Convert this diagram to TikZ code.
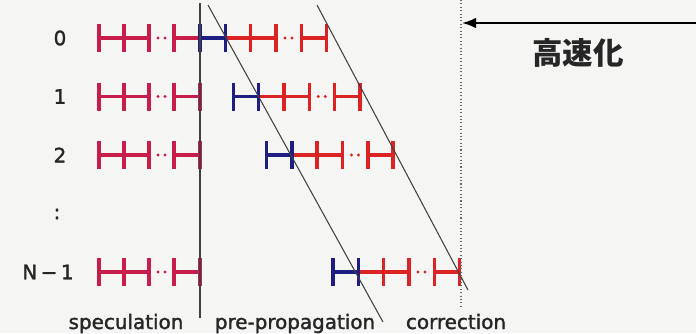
\documentclass[tikz,border=0pt]{standalone}
\usepackage{fontspec}
\setmainfont{DejaVu Sans}[BoldFont={DejaVu Sans},BoldFeatures={FakeBold=1.6}]
\newfontfamily\jpfont{Noto Sans CJK JP}
\usetikzlibrary{arrows.meta}
\definecolor{specred}{RGB}{200,28,75}
\definecolor{corrred}{RGB}{220,35,35}
\definecolor{propblue}{RGB}{30,30,130}
\definecolor{bggray}{RGB}{245,245,243}
\begin{document}
\begin{tikzpicture}[x=0.03cm,y=-0.03cm,
    specbar/.style={line width=2.9pt,specred},
    propbar/.style={line width=2.9pt,propblue},
    corrbar/.style={line width=2.9pt,corrred},
    guide/.style={line width=0.9pt,black!75},
    lbl/.style={font=\bfseries\fontsize{17}{20}\selectfont,text=black!85,inner sep=0pt}]
  \fill[bggray] (0,0) rectangle (696,333);
  \useasboundingbox (0,0) rectangle (696,333);
  % one row per processor: speculation, pre-propagation, correction
  \foreach \y/\s in {38/200,96.5/233.3,155/266.5,272/333}{
    \draw[specbar] (99,\y) -- (149,\y) (174,\y) -- (200,\y);
    \foreach \t in {99,124,149,174,200}
      \draw[specbar] (\t,\y-14) -- (\t,\y+14);
    \fill[specred] (158,\y) circle (1.4pt) (165,\y) circle (1.4pt);
    \draw[corrbar] (\s+25.3,\y) -- (\s+76,\y) (\s+101.3,\y) -- (\s+126.6,\y);
    \foreach \t in {50.6,76,101.3,126.6}
      \draw[corrbar] (\s+\t,\y-14) -- (\s+\t,\y+14);
    \fill[corrred] (\s+85,\y) circle (1.4pt) (\s+92,\y) circle (1.4pt);
    \draw[propbar] (\s,\y) -- (\s+25.3,\y);
    \draw[propbar] (\s,\y-14) -- (\s,\y+14) (\s+25.3,\y-14) -- (\s+25.3,\y+14);
  }
  \node[lbl] (row0) at (60,38) {0};
  \node[lbl] (row1) at (60,96.5) {1};
  \node[lbl] (row2) at (60,155) {2};
  \node[lbl] (rowdots) at (57,214) {:};
  \node[lbl] (rowN) at (48,272) {N\kern3pt−\kern3pt1};
  % phase boundaries
  \draw[guide] (200,3) -- (200,318);
  \draw[guide] (208,5) -- (383,322);
  \draw[guide] (317,5) -- (468,290);
  \draw[black!60,line width=0.9pt,dotted] (461,0) -- (461,307);
  \node[lbl,anchor=base] (spec) at (126,329) {speculation};
  \node[lbl,anchor=base] (prop) at (295,329) {pre-propagation};
  \node[lbl,anchor=base] (corr) at (456,329) {correction};
  % speed-up
  \coordinate (arrowtail) at (696,23);
  \coordinate (arrowtip) at (462,23);
  \draw[line width=1.6pt,-{Latex[length=12pt,width=9pt]}] (arrowtail) -- (arrowtip);
  \node[font=\jpfont\bfseries\fontsize{26}{30}\selectfont,text=black!85] (speedup) at (578,53) {高速化};
\end{tikzpicture}
\end{document}
